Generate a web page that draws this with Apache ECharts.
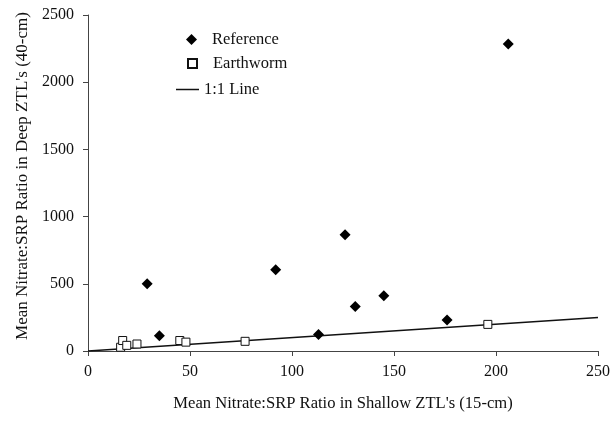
<!DOCTYPE html>
<html>
<head>
<meta charset="utf-8">
<script src="https://cdn.jsdelivr.net/npm/echarts@6/dist/echarts.min.js"></script>
<style>
html,body{margin:0;padding:0;background:#fff;}
#c{width:613px;height:422px;}
</style>
</head>
<body>
<div id="c"></div>
<script>
// Data
var referenceX = [29, 35, 92, 113, 126, 131, 145, 176, 206];
var referenceY = [500, 114, 605, 122, 865, 332, 412, 230, 2285];
var earthwormX = [16, 17, 19, 24, 45, 48, 77, 196];
var earthwormY = [28, 78, 42, 52, 78, 66, 72, 198];
var lineX = [0, 250];
var lineY = [0, 250];
var xTicks = [0, 50, 100, 150, 200, 250];
var yTicks = [0, 500, 1000, 1500, 2000, 2500];

function zip(a, b) { return a.map(function (v, i) { return [v, b[i]]; }); }

var font = 'Liberation Serif, Times New Roman, serif';
var chart = echarts.init(document.getElementById('c'));
var legendCommon = {
  orient: 'vertical',
  padding: 0,
  itemGap: 10,
  textStyle: { fontFamily: font, fontSize: 16.5, color: '#111', padding: [0, 0, 0, 10] },
  selectedMode: false
};
chart.setOption({
  animation: false,
  backgroundColor: '#fff',
  grid: { left: 88, right: 15, top: 15, bottom: 71 },
  xAxis: {
    type: 'value', min: xTicks[0], max: xTicks[xTicks.length - 1], interval: 50,
    name: "Mean Nitrate:SRP Ratio in Shallow ZTL's (15-cm)",
    nameLocation: 'middle', nameGap: 44,
    nameTextStyle: { fontFamily: font, fontSize: 16.6, color: '#111' },
    axisLine: { lineStyle: { color: '#444', width: 1 } },
    axisTick: { show: true, length: 5, inside: false, lineStyle: { color: '#444' } },
    axisLabel: { fontFamily: font, fontSize: 16, color: '#111', margin: 13, formatter: function (v) { return String(v); } },
    splitLine: { show: false }
  },
  yAxis: {
    type: 'value', min: yTicks[0], max: yTicks[yTicks.length - 1], interval: 500,
    name: "Mean Nitrate:SRP Ratio in Deep ZTL's (40-cm)",
    nameLocation: 'middle', nameGap: 55,
    nameTextStyle: { fontFamily: font, fontSize: 17, color: '#111', padding: [0, 0, 0, 14] },
    axisLine: { show: true, lineStyle: { color: '#444', width: 1 } },
    axisTick: { show: true, length: 5, inside: false, lineStyle: { color: '#444' } },
    axisLabel: { fontFamily: font, fontSize: 16, color: '#111', margin: 14, formatter: function (v) { return String(v); } },
    splitLine: { show: false }
  },
  legend: [
    Object.assign({}, legendCommon, {
      left: 186, top: 31, itemWidth: 11, itemHeight: 11,
      data: [{ name: 'Reference', icon: 'diamond', itemStyle: { color: '#000' } }]
    }),
    Object.assign({}, legendCommon, {
      left: 187, top: 55, itemWidth: 9, itemHeight: 9,
      textStyle: { fontFamily: font, fontSize: 16.5, color: '#111', padding: [0, 0, 0, 11] },
      data: [{ name: 'Earthworm', icon: 'rect' }]
    }),
    Object.assign({}, legendCommon, {
      left: 176, top: 81, itemWidth: 23, itemHeight: 1.5,
      textStyle: { fontFamily: font, fontSize: 16.5, color: '#111', padding: [0, 0, 0, 0] },
      data: [{ name: '1:1 Line', icon: 'rect', itemStyle: { color: '#111', borderWidth: 0 } }]
    })
  ],
  series: [
    {
      name: '1:1 Line', type: 'line', data: zip(lineX, lineY),
      showSymbol: false, symbol: 'none',
      lineStyle: { color: '#111', width: 1.5 }, itemStyle: { color: '#111' }, z: 1
    },
    {
      name: 'Earthworm', type: 'scatter', data: zip(earthwormX, earthwormY),
      symbol: 'rect', symbolSize: 8,
      itemStyle: { color: '#fff', borderColor: '#111', borderWidth: 1, opacity: 1 }, z: 3
    },
    {
      name: 'Reference', type: 'scatter', data: zip(referenceX, referenceY),
      symbol: 'diamond', symbolSize: 11,
      itemStyle: { color: '#000', opacity: 1 }, z: 4
    }
  ]
});
</script>
</body>
</html>
